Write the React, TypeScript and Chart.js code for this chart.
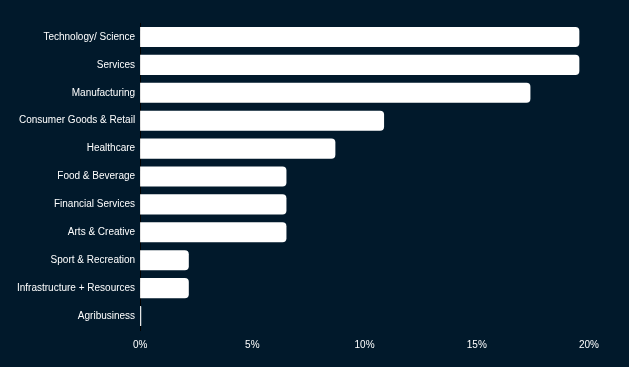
import React, { useEffect, useRef } from "react";
import { Chart, registerables } from "chart.js";
Chart.register(...registerables);

const categories = [
  "Technology/ Science",
  "Services",
  "Manufacturing",
  "Consumer Goods & Retail",
  "Healthcare",
  "Food & Beverage",
  "Financial Services",
  "Arts & Creative",
  "Sport & Recreation",
  "Infrastructure + Resources",
  "Agribusiness",
];
const shares = [19.57, 19.57, 17.39, 10.87, 8.7, 6.52, 6.52, 6.52, 2.17, 2.17, 0.05];
const xTicks = [0, 5, 10, 15, 20];

const BG = "#01192b";

export default function App() {
  const ref = useRef<HTMLCanvasElement>(null);
  useEffect(() => {
    document.body.style.margin = "0";
    document.body.style.background = BG;
    const chart = new Chart(ref.current!, {
      type: "bar",
      data: {
        labels: categories,
        datasets: [
          {
            data: shares,
            backgroundColor: "#ffffff",
            borderRadius: 4,
            borderSkipped: "start",
          },
        ],
      },
      options: {
        indexAxis: "y",
        animation: false,
        responsive: false,
        layout: { padding: { left: 12, right: 40, top: 23, bottom: 7 } },
        plugins: { legend: { display: false }, tooltip: { enabled: false } },
        scales: {
          x: {
            min: 0,
            max: 20,
            afterBuildTicks: (s: any) => {
              s.ticks = xTicks.map((v) => ({ value: v }));
            },
            grid: { display: false, drawTicks: false },
            border: { display: false },
            ticks: {
              color: "#ffffff",
              font: { family: "Liberation Sans, Arial", size: 10 },
              callback: (v: any) => v + "%",
              padding: 9,
            },
          },
          y: {
            grid: { display: false, drawTicks: false },
            border: { display: true, color: "#000000", width: 1 },
            ticks: {
              color: "#ffffff",
              font: { family: "Liberation Sans, Arial", size: 10 },
              padding: 5,
            },
          },
        },
      },
    });
    return () => chart.destroy();
  }, []);
  return (
    <div style={{ width: 629, height: 367, background: BG }}>
      <canvas ref={ref} width={629} height={367} style={{ display: "block" }} />
    </div>
  );
}
